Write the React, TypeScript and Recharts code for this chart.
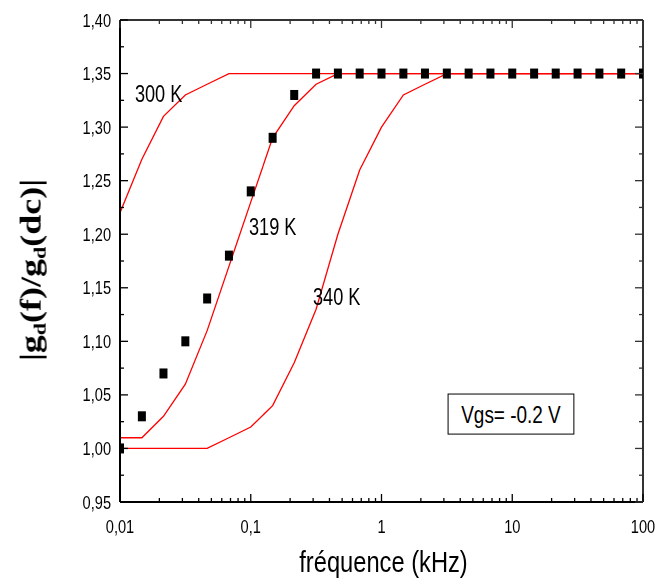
import React from 'react';
import { ComposedChart, Line, Scatter, XAxis, YAxis, ReferenceDot, ReferenceArea } from 'recharts';

// frequency grid (kHz), six points per decade
const freq = [
  0.01, 0.0147, 0.0215, 0.0316, 0.0464, 0.0681,
  0.1, 0.147, 0.215, 0.316, 0.464, 0.681,
  1, 1.47, 2.15, 3.16, 4.64, 6.81,
  10, 14.7, 21.5, 31.6, 46.4, 68.1, 100,
];
const measured = [
  1.0, 1.03, 1.07, 1.1, 1.14, 1.18, 1.24, 1.29, 1.33, 1.35, 1.35, 1.35,
  1.35, 1.35, 1.35, 1.35, 1.35, 1.35, 1.35, 1.35, 1.35, 1.35, 1.35, 1.35, 1.35,
];
const t300 = [
  1.22, 1.27, 1.31, 1.33, 1.34, 1.35, 1.35, 1.35, 1.35, 1.35, 1.35, 1.35,
  1.35, 1.35, 1.35, 1.35, 1.35, 1.35, 1.35, 1.35, 1.35, 1.35, 1.35, 1.35, 1.35,
];
const t319 = [
  1.01, 1.01, 1.03, 1.06, 1.11, 1.17, 1.23, 1.29, 1.32, 1.34, 1.35, 1.35,
  1.35, 1.35, 1.35, 1.35, 1.35, 1.35, 1.35, 1.35, 1.35, 1.35, 1.35, 1.35, 1.35,
];
const t340 = [
  1.0, 1.0, 1.0, 1.0, 1.0, 1.01, 1.02, 1.04, 1.08, 1.13, 1.2, 1.26,
  1.3, 1.33, 1.34, 1.35, 1.35, 1.35, 1.35, 1.35, 1.35, 1.35, 1.35, 1.35, 1.35,
];

const xMajor = [0.01, 0.1, 1, 10, 100];
const xLabels = ['0,01', '0,1', '1', '10', '100'];
const yMajor = [0.95, 1.0, 1.05, 1.1, 1.15, 1.2, 1.25, 1.3, 1.35, 1.4];
const yLabels = ['0,95', '1,00', '1,05', '1,10', '1,15', '1,20', '1,25', '1,30', '1,35', '1,40'];
const yMinor = [0.975, 1.025, 1.075, 1.125, 1.175, 1.225, 1.275, 1.325, 1.375];

const xMinor: number[] = [];
xMajor.slice(0, 4).forEach((d) => [2, 3, 4, 5, 6, 7, 8, 9].forEach((m) => xMinor.push(d * m)));
const xTicks = [...xMajor, ...xMinor];
const yTicks = [...yMajor, ...yMinor];

const data = freq.map((f, i) => ({ f, m: measured[i], t300: t300[i], t319: t319[i], t340: t340[i] }));

const SX = 0.79;
const SANS = '"Liberation Sans", Arial, sans-serif';

function SqText({ x, y, size, anchor = 'start', children }: any) {
  return (
    <text transform={`translate(${x},${y}) scale(${SX},1)`} textAnchor={anchor} fontSize={size} fontFamily={SANS} fill="#000">
      {children}
    </text>
  );
}

const BottomTick = (p: any) => {
  const i = xMajor.indexOf(p.payload.value);
  const len = i >= 0 ? 8 : 4;
  return (
    <g>
      <line x1={p.x} x2={p.x} y1={p.y} y2={p.y - len} stroke="#000" strokeWidth={1.3} />
      {i >= 0 && <SqText x={p.x} y={p.y + 31} size={18.5} anchor="middle">{xLabels[i]}</SqText>}
    </g>
  );
};
const TopTick = (p: any) => {
  const len = xMajor.indexOf(p.payload.value) >= 0 ? 8 : 4;
  return <line x1={p.x} x2={p.x} y1={p.y} y2={p.y + len} stroke="#333" strokeWidth={1.3} />;
};
const LeftTick = (p: any) => {
  const i = yMajor.indexOf(p.payload.value);
  const len = i >= 0 ? 8 : 4;
  return (
    <g>
      <line x1={p.x} x2={p.x + len} y1={p.y} y2={p.y} stroke="#000" strokeWidth={1.3} />
      {i >= 0 && <SqText x={p.x - 9} y={p.y + 6.6} size={18.5} anchor="end">{yLabels[i]}</SqText>}
    </g>
  );
};
const RightTick = (p: any) => {
  const len = yMajor.indexOf(p.payload.value) >= 0 ? 8 : 4;
  return <line x1={p.x} x2={p.x - len} y1={p.y} y2={p.y} stroke="#333" strokeWidth={1.3} />;
};

const Square = (p: any) => <rect x={p.cx - 4} y={p.cy - 5} width={8} height={10} fill="#000" />;

const XTitle = ({ viewBox }: any) => (
  <SqText x={viewBox.x + viewBox.width / 2 + 2} y={viewBox.y + 70} size={30} anchor="middle">fréquence (kHz)</SqText>
);

const YTitle = ({ viewBox }: any) => (
  <text
    transform={`translate(${viewBox.x + 33},${viewBox.y + viewBox.height / 2 + 9}) rotate(-90) scale(1,0.8)`}
    textAnchor="middle"
    fontFamily='"Liberation Serif", "Times New Roman", serif'
    fontWeight="bold"
    fontSize={36}
    fill="#000"
  >
    |g<tspan fontSize={22} dy={6}>d</tspan>
    <tspan dy={-6}>(f)/g</tspan>
    <tspan fontSize={22} dy={6}>d</tspan>
    <tspan dy={-6}>(dc)|</tspan>
  </text>
);

const tempLabel = (txt: string) => (p: any) => <SqText x={p.cx} y={p.cy + 8} size={23}>{txt}</SqText>;

const VgsBox = (p: any) => (
  <g>
    <rect x={p.x} y={p.y} width={p.width} height={p.height} fill="#fff" stroke="#000" strokeWidth={1} />
    <SqText x={p.x + p.width / 2} y={p.y + p.height / 2 + 8.5} size={24} anchor="middle">Vgs= -0.2 V</SqText>
  </g>
);

export default function App() {
  const axisCommon = {
    type: 'number' as const,
    tickSize: 0,
    tickMargin: 0,
    tickLine: false,
    interval: 0 as const,
    allowDataOverflow: true,
  };
  return (
    <div style={{ position: 'fixed', left: 8, top: 8 }}>
      <ComposedChart width={649} height={573} data={data} margin={{ top: 0, right: 0, bottom: 0, left: 0 }}>
        <XAxis {...axisCommon} dataKey="f" scale="log" domain={[0.01, 100]} ticks={xTicks} height={79}
          axisLine={{ stroke: '#000', strokeWidth: 2 }} tick={BottomTick} label={XTitle} />
        <XAxis {...axisCommon} xAxisId="top" orientation="top" dataKey="f" scale="log" domain={[0.01, 100]} ticks={xTicks} height={12}
          axisLine={{ stroke: '#333', strokeWidth: 2 }} tick={TopTick} />
        <YAxis {...axisCommon} domain={[0.95, 1.4]} ticks={yTicks} width={112}
          axisLine={{ stroke: '#000', strokeWidth: 2 }} tick={LeftTick} label={YTitle} />
        <YAxis {...axisCommon} yAxisId="right" orientation="right" domain={[0.95, 1.4]} ticks={yTicks} width={14}
          axisLine={{ stroke: '#333', strokeWidth: 2 }} tick={RightTick} />

        <ReferenceArea x1={3.23} x2={29.6} y1={1.0134} y2={1.0508} shape={VgsBox} />

        <Scatter dataKey="m" fill="#000" shape={Square} isAnimationActive={false} />
        <Line type="linear" dataKey="t300" stroke="#ff0000" strokeWidth={1.3} dot={false} isAnimationActive={false} />
        <Line type="linear" dataKey="t319" stroke="#ff0000" strokeWidth={1.3} dot={false} isAnimationActive={false} />
        <Line type="linear" dataKey="t340" stroke="#ff0000" strokeWidth={1.3} dot={false} isAnimationActive={false} />

        <ReferenceDot x={0.013} y={1.331} r={0} shape={tempLabel('300 K')} />
        <ReferenceDot x={0.097} y={1.207} r={0} shape={tempLabel('319 K')} />
        <ReferenceDot x={0.299} y={1.141} r={0} shape={tempLabel('340 K')} />
      </ComposedChart>
    </div>
  );
}
